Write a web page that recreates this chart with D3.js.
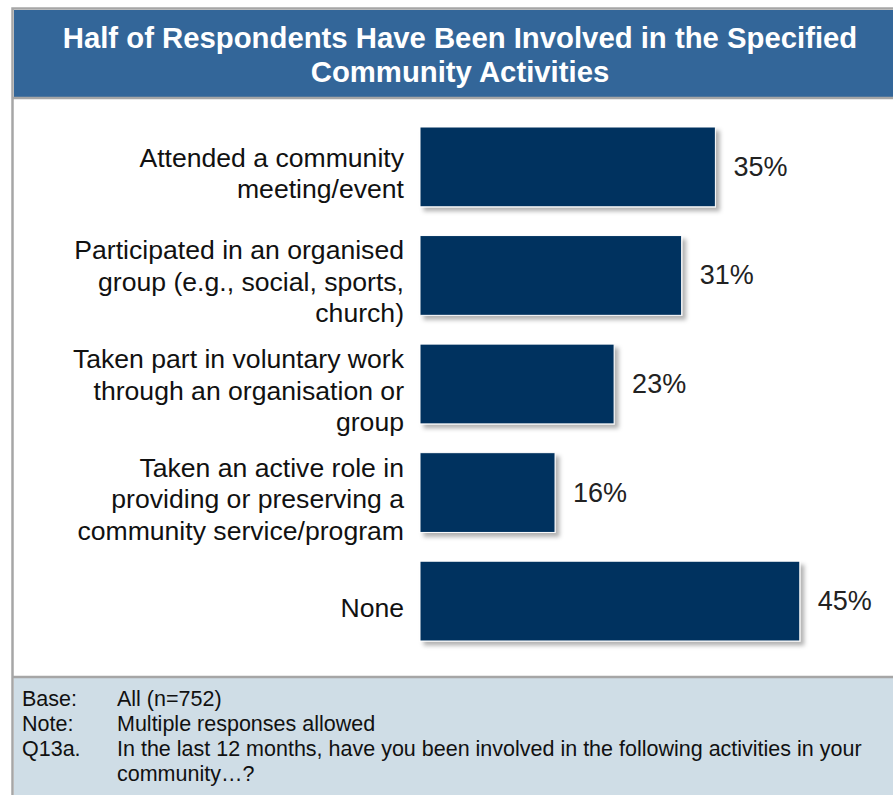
<!DOCTYPE html>
<html>
<head>
<meta charset="utf-8">
<script src="https://cdn.jsdelivr.net/npm/d3@7"></script>
<style>
  html, body { margin: 0; padding: 0; background: #fff; }
  svg { display: block; font-family: "Liberation Sans", Arial, sans-serif; }
</style>
</head>
<body>
<svg id="chart" width="893" height="795"></svg>
<script>
// Activity categories (each entry is the wrapped label lines)
const categories = [
  ["Attended a community", "meeting/event"],
  ["Participated in an organised", "group (e.g., social, sports,", "church)"],
  ["Taken part in voluntary work", "through an organisation or", "group"],
  ["Taken an active role in", "providing or preserving a", "community service/program"],
  ["None"]
];
// Share of respondents (%)
const values = [35, 31, 23, 16, 45];

const titleLines = [
  "Half of Respondents Have Been Involved in the Specified",
  "Community Activities"
];

const noteKeys = ["Base:", "Note:", "Q13a."];
const noteTexts = [
  ["All (n=752)"],
  ["Multiple responses allowed"],
  ["In the last 12 months, have you been involved in the following activities in your", "community\u2026?"]
];

const W = 893, H = 795;
const svg = d3.select("#chart");

// drop shadow for the bars
const defs = svg.append("defs");
const f = defs.append("filter").attr("id", "shadow")
  .attr("x", "-5%").attr("y", "-10%").attr("width", "115%").attr("height", "130%");
f.append("feDropShadow").attr("dx", 4).attr("dy", 4).attr("stdDeviation", 2)
  .attr("flood-color", "#000").attr("flood-opacity", 0.3);

// panel frame
svg.append("rect").attr("x", 0).attr("y", 0).attr("width", W).attr("height", H).attr("fill", "#fff");
svg.append("rect").attr("x", 12.5).attr("y", 8.5).attr("width", W + 20).attr("height", H + 20)
  .attr("fill", "#fff").attr("stroke", "#a6a6a6").attr("stroke-width", 2.5);

// title band
svg.append("rect").attr("x", 14).attr("y", 10).attr("width", W).attr("height", 87).attr("fill", "#336699");
svg.append("line").attr("x1", 12).attr("x2", W).attr("y1", 98).attr("y2", 98)
  .attr("stroke", "#a6a6a6").attr("stroke-width", 2.5);
svg.append("g").selectAll("text").data(titleLines).join("text")
  .attr("x", 460).attr("y", (d, i) => 48 + i * 34)
  .attr("text-anchor", "middle").attr("fill", "#fff")
  .attr("font-weight", "bold").attr("font-size", 29.3)
  .text(d => d);

// footer band
const footTop = 677;
svg.append("rect").attr("x", 14).attr("y", footTop).attr("width", W).attr("height", H - footTop).attr("fill", "#cfdde6");
svg.append("line").attr("x1", 12).attr("x2", W).attr("y1", footTop).attr("y2", footTop)
  .attr("stroke", "#a6a6a6").attr("stroke-width", 2.5);

// scales
const x = d3.scaleLinear().domain([0, 50]).range([420, 842]);
const y = d3.scaleBand().domain(d3.range(categories.length)).range([127, 641]).paddingInner(0.265).paddingOuter(0);

// bars
svg.append("g").selectAll("rect").data(values).join("rect")
  .attr("x", x(0))
  .attr("y", (d, i) => y(i))
  .attr("width", d => x(d) - x(0))
  .attr("height", y.bandwidth())
  .attr("fill", "#03335f")
  .attr("stroke", "#fff").attr("stroke-width", 1)
  .attr("filter", "url(#shadow)");

// value labels
svg.append("g").selectAll("text").data(values).join("text")
  .attr("x", d => x(d) + 18)
  .attr("y", (d, i) => y(i) + y.bandwidth() / 2 + 9)
  .attr("font-size", 27).attr("fill", "#222")
  .text(d => d + "%");

// category labels
const lh = 31.5;
const cat = svg.append("g").selectAll("text").data(categories).join("text")
  .attr("text-anchor", "end").attr("font-size", 26.6).attr("fill", "#111");
cat.each(function(lines, i) {
  const cy = y(i) + y.bandwidth() / 2 + 6;
  d3.select(this).selectAll("tspan").data(lines).join("tspan")
    .attr("x", 404)
    .attr("y", (d, j) => cy + (j - (lines.length - 1) / 2) * lh + 9.5)
    .text(d => d);
});

// footer notes
const nlh = 25;
let row = 0;
const notes = svg.append("g").attr("font-size", 21.5).attr("fill", "#111");
noteKeys.forEach((k, i) => {
  const by = 706 + row * nlh;
  notes.append("text").attr("x", 22).attr("y", by).text(k);
  noteTexts[i].forEach((t, j) => {
    notes.append("text").attr("x", 117).attr("y", by + j * nlh).text(t);
  });
  row += noteTexts[i].length;
});
</script>
</body>
</html>
